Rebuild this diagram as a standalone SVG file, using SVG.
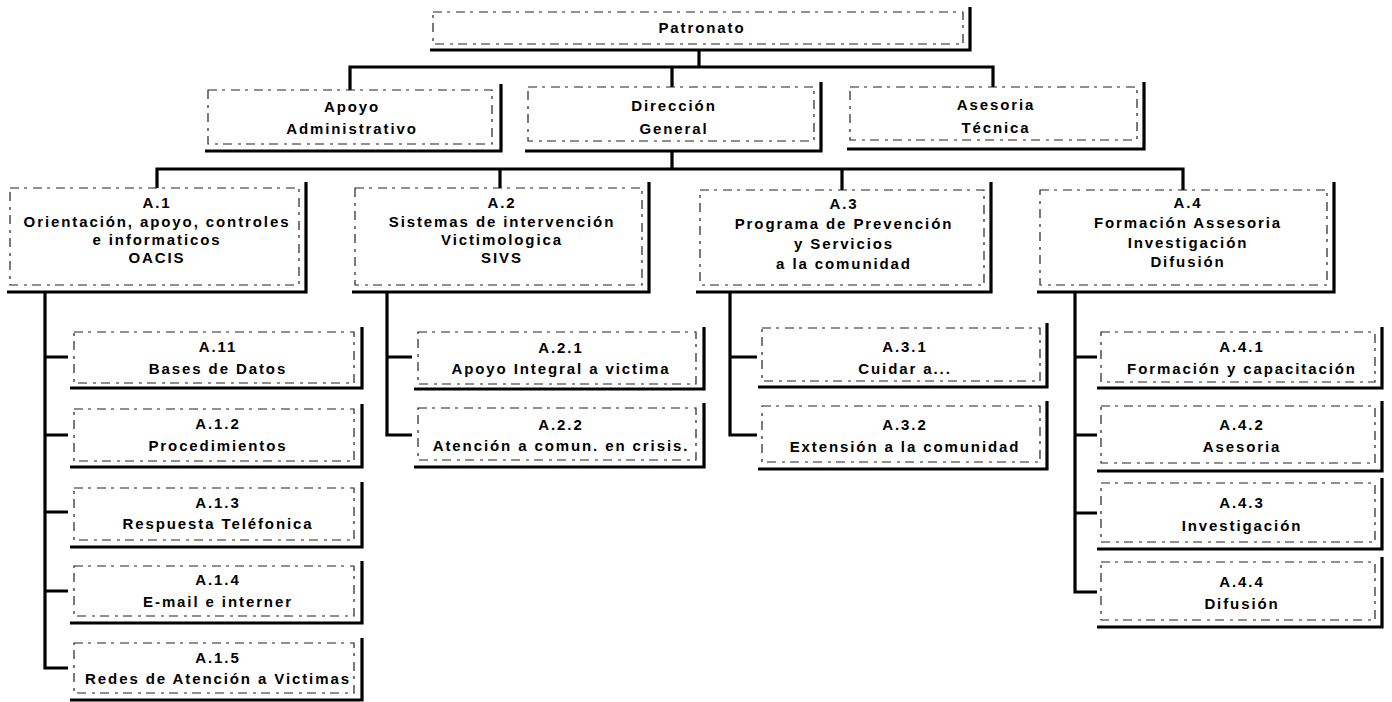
<svg xmlns="http://www.w3.org/2000/svg" width="1392" height="702" viewBox="0 0 1392 702">
<style>
.dash{fill:none;stroke:#222;stroke-width:1.2;stroke-dasharray:9 5 3 6}
.thick{fill:none;stroke:#000;stroke-width:3.2;stroke-linejoin:miter}
.conn{fill:none;stroke:#000;stroke-width:3.2;stroke-linejoin:miter}
text{font-family:"Liberation Sans",Arial,sans-serif;font-weight:bold;font-size:15px;letter-spacing:1.9px;text-anchor:middle;fill:#000}
</style>
<rect width="1392" height="702" fill="#fff"/>
<g id="connectors">
<path class="conn" d="M699 51 V67"/>
<path class="conn" d="M350 90 V67 H993 V87"/>
<path class="conn" d="M672 67 V87"/>
<path class="conn" d="M672 152 V169"/>
<path class="conn" d="M157 188 V169 H1183 V190"/>
<path class="conn" d="M500 169 V188"/>
<path class="conn" d="M842 169 V190"/>
<path class="conn" d="M45 293 V668 H68 M45 357 H68 M45 435 H68 M45 512 H68 M45 591 H68"/>
<path class="conn" d="M387 293 V435 H412 M387 357 H412"/>
<path class="conn" d="M730 293 V435 H757 M730 357 H757"/>
<path class="conn" d="M1075 293 V592 H1097 M1075 357 H1097 M1075 435 H1097 M1075 513 H1097"/>
</g>
<g id="patronato">
<rect class="dash" x="433" y="12" width="530" height="32"/>
<path class="thick" d="M430 50 H970 V7"/>
<text x="702" y="33">Patronato</text>
</g>
<g id="apoyo-administrativo">
<rect class="dash" x="208" y="90" width="284" height="54"/>
<path class="thick" d="M205 151 H501 V84"/>
<text x="352" y="112">Apoyo</text>
<text x="352" y="134">Administrativo</text>
</g>
<g id="direccion-general">
<rect class="dash" x="528" y="87" width="286" height="54"/>
<path class="thick" d="M525 151 H821 V82"/>
<text x="674" y="111">Dirección</text>
<text x="674" y="134">General</text>
</g>
<g id="asesoria-tecnica">
<rect class="dash" x="850" y="87" width="287" height="53"/>
<path class="thick" d="M847 149 H1144 V82"/>
<text x="996" y="110">Asesoria</text>
<text x="996" y="133">Técnica</text>
</g>
<g id="a1">
<rect class="dash" x="10" y="188" width="289" height="97"/>
<path class="thick" d="M7 292 H306 V182"/>
<text x="157" y="208">A.1</text>
<text x="157" y="227">Orientación,  apoyo, controles</text>
<text x="157" y="245">e informaticos</text>
<text x="157" y="263">OACIS</text>
</g>
<g id="a2">
<rect class="dash" x="355" y="188" width="287" height="97"/>
<path class="thick" d="M352 292 H649 V182"/>
<text x="502" y="208">A.2</text>
<text x="502" y="227">Sistemas de intervención</text>
<text x="502" y="245">Victimologica</text>
<text x="502" y="263">SIVS</text>
</g>
<g id="a3">
<rect class="dash" x="700" y="190" width="284" height="95"/>
<path class="thick" d="M696 292 H991 V182"/>
<text x="844" y="209">A.3</text>
<text x="844" y="229">Programa de Prevención</text>
<text x="844" y="249">y Servicios</text>
<text x="844" y="269">a la comunidad</text>
</g>
<g id="a4">
<rect class="dash" x="1040" y="190" width="287" height="95"/>
<path class="thick" d="M1037 292 H1334 V182"/>
<text x="1188" y="208">A.4</text>
<text x="1188" y="228">Formación Assesoria</text>
<text x="1188" y="248">Investigación</text>
<text x="1188" y="267">Difusión</text>
</g>
<g id="a11">
<rect class="dash" x="74" y="332" width="280" height="51"/>
<path class="thick" d="M70 388 H362 V327"/>
<text x="218" y="352">A.11</text>
<text x="218" y="374">Bases de Datos</text>
</g>
<g id="a12">
<rect class="dash" x="74" y="409" width="280" height="52"/>
<path class="thick" d="M70 467 H362 V404"/>
<text x="218" y="429">A.1.2</text>
<text x="218" y="451">Procedimientos</text>
</g>
<g id="a13">
<rect class="dash" x="74" y="488" width="280" height="52"/>
<path class="thick" d="M70 547 H362 V482"/>
<text x="218" y="508">A.1.3</text>
<text x="218" y="529">Respuesta Teléfonica</text>
</g>
<g id="a14">
<rect class="dash" x="74" y="566" width="280" height="50"/>
<path class="thick" d="M70 623 H362 V561"/>
<text x="218" y="585">A.1.4</text>
<text x="218" y="607">E-mail e interner</text>
</g>
<g id="a15">
<rect class="dash" x="74" y="643" width="280" height="50"/>
<path class="thick" d="M70 700 H362 V638"/>
<text x="218" y="663">A.1.5</text>
<text x="218" y="684">Redes de Atención a Victimas</text>
</g>
<g id="a21">
<rect class="dash" x="418" y="332" width="278" height="52"/>
<path class="thick" d="M414 389 H704 V327"/>
<text x="561" y="353">A.2.1</text>
<text x="561" y="374">Apoyo Integral a victima</text>
</g>
<g id="a22">
<rect class="dash" x="418" y="408" width="278" height="52"/>
<path class="thick" d="M414 467 H704 V403"/>
<text x="561" y="430">A.2.2</text>
<text x="561" y="451">Atención a comun. en crisis.</text>
</g>
<g id="a31">
<rect class="dash" x="762" y="328" width="278" height="53"/>
<path class="thick" d="M758 387 H1047 V323"/>
<text x="905" y="352">A.3.1</text>
<text x="905" y="374">Cuidar a...</text>
</g>
<g id="a32">
<rect class="dash" x="762" y="406" width="278" height="56"/>
<path class="thick" d="M758 469 H1047 V401"/>
<text x="905" y="430">A.3.2</text>
<text x="905" y="452">Extensión a la comunidad</text>
</g>
<g id="a41">
<rect class="dash" x="1101" y="332" width="274" height="50"/>
<path class="thick" d="M1097 388 H1382 V327"/>
<text x="1242" y="352">A.4.1</text>
<text x="1242" y="374">Formación y capacitación</text>
</g>
<g id="a42">
<rect class="dash" x="1101" y="406" width="274" height="57"/>
<path class="thick" d="M1097 471 H1382 V401"/>
<text x="1242" y="430">A.4.2</text>
<text x="1242" y="452">Asesoria</text>
</g>
<g id="a43">
<rect class="dash" x="1101" y="483" width="274" height="59"/>
<path class="thick" d="M1097 549 H1382 V478"/>
<text x="1242" y="508">A.4.3</text>
<text x="1242" y="531">Investigación</text>
</g>
<g id="a44">
<rect class="dash" x="1101" y="562" width="274" height="58"/>
<path class="thick" d="M1097 627 H1382 V557"/>
<text x="1242" y="587">A.4.4</text>
<text x="1242" y="609">Difusión</text>
</g>
</svg>
